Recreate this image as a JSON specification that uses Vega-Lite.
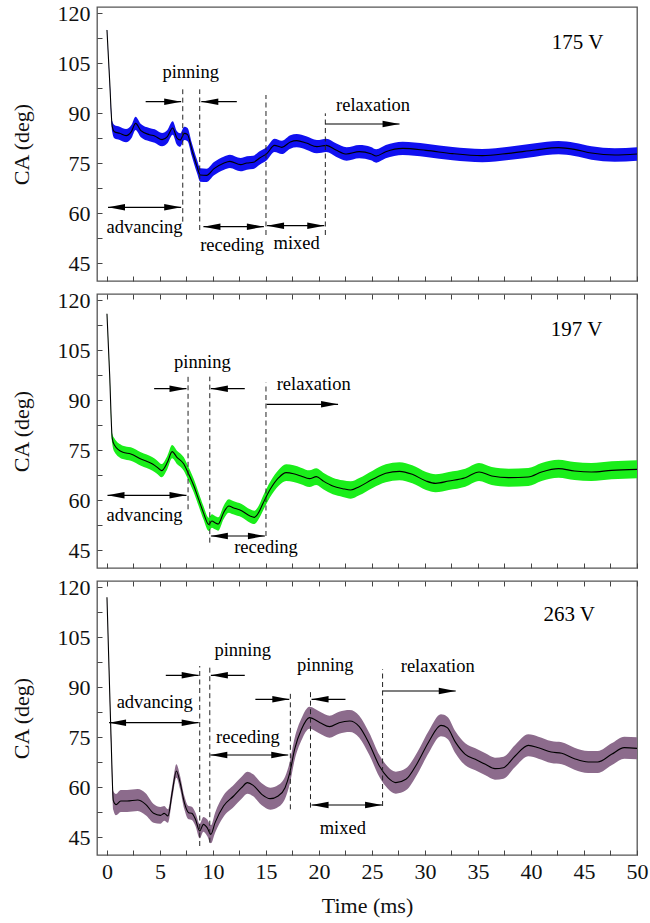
{
  "$schema": "https://vega.github.io/schema/vega-lite/v6.json",
  "autosize": {"type": "none"},
  "padding": {"left": 97, "top": 7, "right": 553, "bottom": 916},
  "background": "white",
  "config": {
    "font": "Liberation Serif",
    "view": {"stroke": "#555555", "strokeWidth": 1.3},
    "axis": {
      "domain": false, "grid": false, "tickSize": -5, "tickColor": "#444444", "tickWidth": 1,
      "labelFont": "Liberation Serif", "labelFontSize": 22, "labelColor": "#111111",
      "titleFont": "Liberation Serif", "titleFontSize": 22, "titleFontWeight": "normal", "titleColor": "#111111"
    }
  },
  "datasets": {
    "curves": [
      {"p":1,"t":0,"ca":115,"err":0.3},{"p":1,"t":0.25,"ca":100,"err":0.6},{"p":1,"t":0.5,"ca":86,"err":1.6},{"p":1,"t":0.7,"ca":84.5,"err":2},{"p":1,"t":1.2,"ca":84,"err":2},{"p":1,"t":1.8,"ca":83.3,"err":2},{"p":1,"t":2.3,"ca":84.5,"err":2},{"p":1,"t":2.7,"ca":87,"err":2},{"p":1,"t":3.2,"ca":84.8,"err":2},{"p":1,"t":4.0,"ca":83.6,"err":2},{"p":1,"t":4.5,"ca":83.2,"err":2},{"p":1,"t":5.2,"ca":82.1,"err":2},{"p":1,"t":5.7,"ca":83,"err":2},{"p":1,"t":6.2,"ca":85.6,"err":2},{"p":1,"t":6.6,"ca":82.6,"err":2},{"p":1,"t":6.9,"ca":82,"err":2},{"p":1,"t":7.3,"ca":84,"err":2},{"p":1,"t":7.6,"ca":83.6,"err":2},{"p":1,"t":8.0,"ca":79.2,"err":2},{"p":1,"t":8.5,"ca":74,"err":2},{"p":1,"t":8.8,"ca":71.5,"err":2},{"p":1,"t":9.4,"ca":71.4,"err":2},{"p":1,"t":10.1,"ca":73.4,"err":2},{"p":1,"t":11.0,"ca":75,"err":2},{"p":1,"t":11.6,"ca":75.6,"err":2},{"p":1,"t":12.6,"ca":74.6,"err":2},{"p":1,"t":13.2,"ca":75.1,"err":2},{"p":1,"t":13.8,"ca":75.3,"err":2},{"p":1,"t":14.4,"ca":76.6,"err":2},{"p":1,"t":15.1,"ca":78,"err":2},{"p":1,"t":15.8,"ca":80.4,"err":2},{"p":1,"t":16.5,"ca":79.8,"err":2},{"p":1,"t":17.3,"ca":81.4,"err":2},{"p":1,"t":17.9,"ca":81.8,"err":2},{"p":1,"t":18.8,"ca":81.1,"err":2},{"p":1,"t":19.8,"ca":80,"err":2},{"p":1,"t":20.7,"ca":80.4,"err":2},{"p":1,"t":21.6,"ca":79,"err":2},{"p":1,"t":22.6,"ca":77.8,"err":2},{"p":1,"t":23.8,"ca":78.5,"err":2},{"p":1,"t":24.9,"ca":77.9,"err":2},{"p":1,"t":25.4,"ca":77.2,"err":2},{"p":1,"t":26.3,"ca":78.5,"err":2},{"p":1,"t":27.9,"ca":79.5,"err":2},{"p":1,"t":30.1,"ca":78.9,"err":2},{"p":1,"t":32.6,"ca":77.9,"err":2},{"p":1,"t":35.4,"ca":77.3,"err":2},{"p":1,"t":37.9,"ca":78,"err":2},{"p":1,"t":40.4,"ca":79,"err":2},{"p":1,"t":42.6,"ca":79.7,"err":2},{"p":1,"t":44.1,"ca":79.2,"err":2},{"p":1,"t":45.7,"ca":78.1,"err":2},{"p":1,"t":47.9,"ca":77.5,"err":2},{"p":1,"t":50,"ca":77.8,"err":2},

      {"p":2,"t":0,"ca":116,"err":0.3},{"p":2,"t":0.25,"ca":98,"err":0.6},{"p":2,"t":0.5,"ca":78.5,"err":1.5},{"p":2,"t":0.7,"ca":76.6,"err":2},{"p":2,"t":1.5,"ca":74.4,"err":2},{"p":2,"t":2.25,"ca":73.9,"err":2},{"p":2,"t":3.2,"ca":72.4,"err":2},{"p":2,"t":4.3,"ca":70.9,"err":2},{"p":2,"t":4.75,"ca":69.9,"err":2},{"p":2,"t":5.15,"ca":68.9,"err":2},{"p":2,"t":5.7,"ca":71.4,"err":2},{"p":2,"t":6.15,"ca":74.6,"err":2},{"p":2,"t":6.6,"ca":72.9,"err":2},{"p":2,"t":7.25,"ca":70.9,"err":2},{"p":2,"t":7.7,"ca":67.9,"err":2},{"p":2,"t":8.2,"ca":64.3,"err":2},{"p":2,"t":8.65,"ca":60.3,"err":2},{"p":2,"t":9.1,"ca":56.3,"err":2},{"p":2,"t":9.6,"ca":52.8,"err":2},{"p":2,"t":9.9,"ca":53.8,"err":2},{"p":2,"t":10.2,"ca":53.3,"err":2},{"p":2,"t":10.5,"ca":52.9,"err":2},{"p":2,"t":11.0,"ca":56.3,"err":2},{"p":2,"t":11.5,"ca":58.3,"err":2},{"p":2,"t":11.9,"ca":57.8,"err":2},{"p":2,"t":12.7,"ca":56.9,"err":2},{"p":2,"t":13.5,"ca":55.3,"err":2},{"p":2,"t":13.9,"ca":54.9,"err":2},{"p":2,"t":14.3,"ca":56.3,"err":2},{"p":2,"t":14.75,"ca":59.3,"err":2.2},{"p":2,"t":15.4,"ca":63.3,"err":2.3},{"p":2,"t":16.2,"ca":66.8,"err":2.4},{"p":2,"t":16.9,"ca":68.3,"err":2.5},{"p":2,"t":17.6,"ca":68,"err":2.5},{"p":2,"t":18.3,"ca":67.3,"err":2.5},{"p":2,"t":19.1,"ca":66.5,"err":2.5},{"p":2,"t":19.75,"ca":67.1,"err":2.5},{"p":2,"t":20.4,"ca":65.8,"err":2.5},{"p":2,"t":21.3,"ca":64.3,"err":2.5},{"p":2,"t":22.25,"ca":63.5,"err":2.5},{"p":2,"t":23.0,"ca":63.1,"err":2.6},{"p":2,"t":23.8,"ca":64.1,"err":2.6},{"p":2,"t":25.06,"ca":66.3,"err":2.6},{"p":2,"t":26.3,"ca":68.1,"err":2.7},{"p":2,"t":27.6,"ca":68.7,"err":2.7},{"p":2,"t":28.8,"ca":67.8,"err":2.7},{"p":2,"t":30.1,"ca":65.8,"err":2.7},{"p":2,"t":31.0,"ca":65.1,"err":2.7},{"p":2,"t":32.25,"ca":65.8,"err":2.7},{"p":2,"t":33.8,"ca":66.8,"err":2.7},{"p":2,"t":35.1,"ca":68.5,"err":2.7},{"p":2,"t":36.3,"ca":67.3,"err":2.7},{"p":2,"t":37.9,"ca":66.8,"err":2.7},{"p":2,"t":39.75,"ca":67,"err":2.7},{"p":2,"t":41.0,"ca":68.5,"err":2.7},{"p":2,"t":42.6,"ca":69.5,"err":2.7},{"p":2,"t":44.1,"ca":68.8,"err":2.7},{"p":2,"t":45.7,"ca":68.5,"err":2.7},{"p":2,"t":47.6,"ca":69,"err":2.7},{"p":2,"t":50,"ca":69.3,"err":2.7},

      {"p":3,"t":0,"ca":117,"err":0.3},{"p":3,"t":0.2,"ca":95,"err":0.6},{"p":3,"t":0.4,"ca":73.4,"err":1.5},{"p":3,"t":0.6,"ca":56,"err":2.8},{"p":3,"t":0.85,"ca":54.8,"err":3.2},{"p":3,"t":1.3,"ca":55.9,"err":3.3},{"p":3,"t":1.9,"ca":55.9,"err":3.3},{"p":3,"t":2.9,"ca":56.2,"err":3.3},{"p":3,"t":3.65,"ca":54.9,"err":3.3},{"p":3,"t":4.4,"ca":52.2,"err":2.8},{"p":3,"t":5.05,"ca":51.6,"err":2.5},{"p":3,"t":5.4,"ca":52.2,"err":2.2},{"p":3,"t":5.75,"ca":51.4,"err":2},{"p":3,"t":6.15,"ca":58.4,"err":2},{"p":3,"t":6.55,"ca":64.9,"err":2},{"p":3,"t":6.9,"ca":61.4,"err":2},{"p":3,"t":7.3,"ca":55.4,"err":2},{"p":3,"t":7.7,"ca":52.4,"err":2},{"p":3,"t":8.0,"ca":52.2,"err":2},{"p":3,"t":8.35,"ca":50.4,"err":2},{"p":3,"t":8.75,"ca":46.9,"err":2.2},{"p":3,"t":9.1,"ca":48.9,"err":2.2},{"p":3,"t":9.45,"ca":47.9,"err":2.5},{"p":3,"t":9.8,"ca":45.9,"err":2.7},{"p":3,"t":10.2,"ca":49.4,"err":3},{"p":3,"t":11.0,"ca":54.4,"err":3.2},{"p":3,"t":11.95,"ca":57.4,"err":3.3},{"p":3,"t":12.7,"ca":59.9,"err":3.3},{"p":3,"t":13.25,"ca":61.4,"err":3.3},{"p":3,"t":13.8,"ca":60.6,"err":3.3},{"p":3,"t":14.6,"ca":57.9,"err":3.3},{"p":3,"t":15.4,"ca":56.6,"err":3.3},{"p":3,"t":16.15,"ca":57.4,"err":3.3},{"p":3,"t":16.8,"ca":59.9,"err":3.3},{"p":3,"t":17.25,"ca":64.4,"err":3.3},{"p":3,"t":17.7,"ca":71.4,"err":3.3},{"p":3,"t":18.35,"ca":77.4,"err":3.3},{"p":3,"t":19.1,"ca":80.9,"err":3.3},{"p":3,"t":20.1,"ca":79.4,"err":3.3},{"p":3,"t":21.0,"ca":78.2,"err":3.3},{"p":3,"t":21.9,"ca":79.4,"err":3.3},{"p":3,"t":22.9,"ca":79.9,"err":3.3},{"p":3,"t":23.8,"ca":78.2,"err":3.3},{"p":3,"t":24.75,"ca":73,"err":3.3},{"p":3,"t":25.7,"ca":66.4,"err":3.3},{"p":3,"t":26.5,"ca":62.9,"err":3.3},{"p":3,"t":27.25,"ca":61.4,"err":3.3},{"p":3,"t":28.2,"ca":62.4,"err":3.3},{"p":3,"t":29.3,"ca":67.4,"err":3.3},{"p":3,"t":30.4,"ca":73.9,"err":3.3},{"p":3,"t":31.5,"ca":78.6,"err":3.3},{"p":3,"t":32.1,"ca":77.9,"err":3.3},{"p":3,"t":32.9,"ca":73.4,"err":3.3},{"p":3,"t":33.8,"ca":69.9,"err":3.3},{"p":3,"t":34.75,"ca":68.4,"err":3.3},{"p":3,"t":35.7,"ca":66.9,"err":3.3},{"p":3,"t":36.6,"ca":65.6,"err":3.3},{"p":3,"t":37.4,"ca":65.9,"err":3.3},{"p":3,"t":38.5,"ca":69.4,"err":3.3},{"p":3,"t":39.75,"ca":72.6,"err":3.3},{"p":3,"t":40.7,"ca":71.9,"err":3.3},{"p":3,"t":41.9,"ca":70.6,"err":3.3},{"p":3,"t":42.9,"ca":70.2,"err":3.3},{"p":3,"t":44.1,"ca":68.6,"err":3.3},{"p":3,"t":45.4,"ca":67.6,"err":3.3},{"p":3,"t":46.3,"ca":67.6,"err":3.3},{"p":3,"t":47.6,"ca":69.9,"err":3.3},{"p":3,"t":48.8,"ca":71.9,"err":3.3},{"p":3,"t":50,"ca":71.7,"err":3.3}
    ],
    "vlines": [
      {"p":1,"t":7.15,"y1":57.5,"y2":97.2},{"p":1,"t":8.75,"y1":55,"y2":97.2},{"p":1,"t":15.0,"y1":53.5,"y2":95.5},{"p":1,"t":20.6,"y1":53.5,"y2":90},
      {"p":2,"t":7.65,"y1":57.3,"y2":97.1},{"p":2,"t":9.7,"y1":47.3,"y2":97.1},{"p":2,"t":15.0,"y1":49.3,"y2":95.3},
      {"p":3,"t":8.75,"y1":42.4,"y2":96.4},{"p":3,"t":9.7,"y1":43.4,"y2":96.6},{"p":3,"t":17.3,"y1":53.4,"y2":88.9},{"p":3,"t":19.2,"y1":53.9,"y2":88.9},{"p":3,"t":26.0,"y1":54.4,"y2":95.4}
    ],
    "arrows": [
      {"p":1,"t1":3.65,"t2":7.0,"ca":93.5},{"p":1,"t1":8.9,"t2":12.25,"ca":93.5},{"p":1,"t1":0.1,"t2":7.0,"ca":61.8},{"p":1,"t1":9.1,"t2":14.8,"ca":56},{"p":1,"t1":15.1,"t2":20.5,"ca":56.3},{"p":1,"t1":20.6,"t2":27.6,"ca":86.8},
      {"p":2,"t1":4.45,"t2":7.5,"ca":93.5},{"p":2,"t1":9.8,"t2":13.0,"ca":93.5},{"p":2,"t1":0.05,"t2":7.5,"ca":61.5},{"p":2,"t1":9.8,"t2":14.9,"ca":49.3},{"p":2,"t1":15.06,"t2":21.8,"ca":88.8},
      {"p":3,"t1":5.55,"t2":8.65,"ca":93.6},{"p":3,"t1":9.8,"t2":13.0,"ca":93.6},{"p":3,"t1":0.2,"t2":8.65,"ca":79.4},{"p":3,"t1":9.75,"t2":17.1,"ca":69.7},{"p":3,"t1":14.0,"t2":17.2,"ca":86.4},{"p":3,"t1":19.3,"t2":22.5,"ca":86.4},{"p":3,"t1":19.3,"t2":25.95,"ca":54.7},{"p":3,"t1":26.0,"t2":32.9,"ca":88.9}
    ],
    "heads": [
      {"p":1,"t":7.0,"ca":93.5,"dir":"R"},{"p":1,"t":8.9,"ca":93.5,"dir":"L"},{"p":1,"t":0.1,"ca":61.8,"dir":"L"},{"p":1,"t":7.0,"ca":61.8,"dir":"R"},{"p":1,"t":9.1,"ca":56,"dir":"L"},{"p":1,"t":14.8,"ca":56,"dir":"R"},{"p":1,"t":15.1,"ca":56.3,"dir":"L"},{"p":1,"t":20.5,"ca":56.3,"dir":"R"},{"p":1,"t":27.6,"ca":86.8,"dir":"R"},
      {"p":2,"t":7.5,"ca":93.5,"dir":"R"},{"p":2,"t":9.8,"ca":93.5,"dir":"L"},{"p":2,"t":0.05,"ca":61.5,"dir":"L"},{"p":2,"t":7.5,"ca":61.5,"dir":"R"},{"p":2,"t":9.8,"ca":49.3,"dir":"L"},{"p":2,"t":14.9,"ca":49.3,"dir":"R"},{"p":2,"t":21.8,"ca":88.8,"dir":"R"},
      {"p":3,"t":8.65,"ca":93.6,"dir":"R"},{"p":3,"t":9.8,"ca":93.6,"dir":"L"},{"p":3,"t":0.2,"ca":79.4,"dir":"L"},{"p":3,"t":8.65,"ca":79.4,"dir":"R"},{"p":3,"t":9.75,"ca":69.7,"dir":"L"},{"p":3,"t":17.1,"ca":69.7,"dir":"R"},{"p":3,"t":17.2,"ca":86.4,"dir":"R"},{"p":3,"t":19.3,"ca":86.4,"dir":"L"},{"p":3,"t":19.3,"ca":54.7,"dir":"L"},{"p":3,"t":25.95,"ca":54.7,"dir":"R"},{"p":3,"t":32.9,"ca":88.9,"dir":"R"}
    ],
    "notes": [
      {"p":1,"t":7.9,"ca":100.5,"text":"pinning"},{"p":1,"t":3.55,"ca":54.2,"text":"advancing"},{"p":1,"t":11.8,"ca":48.7,"text":"receding"},{"p":1,"t":17.9,"ca":49.4,"text":"mixed"},{"p":1,"t":25.1,"ca":90.6,"text":"relaxation"},
      {"p":2,"t":9.0,"ca":99.7,"text":"pinning"},{"p":2,"t":3.55,"ca":53.7,"text":"advancing"},{"p":2,"t":15.0,"ca":44.2,"text":"receding"},{"p":2,"t":19.5,"ca":93.1,"text":"relaxation"},
      {"p":3,"t":12.8,"ca":99.3,"text":"pinning"},{"p":3,"t":4.5,"ca":83.9,"text":"advancing"},{"p":3,"t":13.3,"ca":73.3,"text":"receding"},{"p":3,"t":20.6,"ca":94.9,"text":"pinning"},{"p":3,"t":22.25,"ca":46,"text":"mixed"},{"p":3,"t":31.2,"ca":94.7,"text":"relaxation"}
    ],
    "volts": [
      {"p":1,"t":44.4,"ca":109.4,"text":"175 V"},
      {"p":2,"t":44.3,"ca":109.2,"text":"197 V"},
      {"p":3,"t":43.6,"ca":109.8,"text":"263 V"}
    ]
  },
  "bounds": "flush",
  "spacing": 13,
  "vconcat": [
    {
      "width": 540, "height": 274,
      "resolve": {"axis": {"x": "independent", "y": "independent"}},
      "layer": [
        {
          "data": {"name": "curves"}, "transform": [{"filter": "datum.p === 1"}],
          "mark": {"type": "errorband", "color": "#1010f0", "interpolate": "monotone", "band": {"opacity": 1}},
          "encoding": {
            "x": {"field": "t", "type": "quantitative", "scale": {"domain": [-0.94, 50], "nice": false, "zero": false},
                  "axis": {"orient": "bottom", "values": [0,2.5,5,7.5,10,12.5,15,17.5,20,22.5,25,27.5,30,32.5,35,37.5,40,42.5,45,47.5,50], "labels": false, "title": null}},
            "y": {"field": "ca", "type": "quantitative", "scale": {"domain": [39.7, 121.9], "nice": false, "zero": false}, "axis": null},
            "yError": {"field": "err"}
          }
        },
        {
          "data": {"name": "curves"}, "transform": [{"filter": "datum.p === 1"}],
          "mark": {"type": "line", "color": "black", "strokeWidth": 1.1, "interpolate": "monotone"},
          "encoding": {
            "x": {"field": "t", "type": "quantitative", "axis": null},
            "y": {"field": "ca", "type": "quantitative",
                  "axis": {"orient": "left", "values": [45,52.5,60,67.5,75,82.5,90,97.5,105,112.5,120], "labelExpr": "datum.value % 15 === 0 ? datum.label : ''", "labelPadding": 12, "title": "CA (deg)", "titleX": -68.5, "titleBaseline": "alphabetic"}}
          }
        },
        {
          "data": {"name": "vlines"}, "transform": [{"filter": "datum.p === 1"}],
          "mark": {"type": "rule", "color": "#222222", "strokeWidth": 1, "strokeDash": [5, 3.5]},
          "encoding": {"x": {"field": "t", "type": "quantitative", "axis": null}, "y": {"field": "y1", "type": "quantitative", "axis": null}, "y2": {"field": "y2"}}
        },
        {
          "data": {"name": "arrows"}, "transform": [{"filter": "datum.p === 1"}],
          "mark": {"type": "rule", "color": "black", "strokeWidth": 1.1},
          "encoding": {"x": {"field": "t1", "type": "quantitative", "axis": null}, "x2": {"field": "t2"}, "y": {"field": "ca", "type": "quantitative", "axis": null}}
        },
        {
          "data": {"name": "heads"}, "transform": [{"filter": "datum.p === 1"}],
          "mark": {"type": "point", "filled": true, "color": "black", "opacity": 1, "size": 289},
          "encoding": {
            "x": {"field": "t", "type": "quantitative", "axis": null}, "y": {"field": "ca", "type": "quantitative", "axis": null},
            "shape": {"field": "dir", "type": "nominal", "legend": null, "scale": {"domain": ["L", "R"], "range": ["M0,0L2,-0.38L2,0.38Z", "M0,0L-2,-0.38L-2,0.38Z"]}}
          }
        },
        {
          "data": {"name": "notes"}, "transform": [{"filter": "datum.p === 1"}],
          "mark": {"type": "text", "font": "Liberation Serif", "fontSize": 18.5, "align": "center", "baseline": "alphabetic", "color": "black"},
          "encoding": {"x": {"field": "t", "type": "quantitative", "axis": null}, "y": {"field": "ca", "type": "quantitative", "axis": null}, "text": {"field": "text"}}
        },
        {
          "data": {"name": "volts"}, "transform": [{"filter": "datum.p === 1"}],
          "mark": {"type": "text", "font": "Liberation Serif", "fontSize": 21, "align": "center", "baseline": "alphabetic", "color": "black"},
          "encoding": {"x": {"field": "t", "type": "quantitative", "axis": null}, "y": {"field": "ca", "type": "quantitative", "axis": null}, "text": {"field": "text"}}
        }
      ]
    },
    {
      "width": 540, "height": 274,
      "resolve": {"axis": {"x": "independent", "y": "independent"}},
      "layer": [
        {
          "data": {"name": "curves"}, "transform": [{"filter": "datum.p === 2"}],
          "mark": {"type": "errorband", "color": "#1aee1a", "interpolate": "monotone", "band": {"opacity": 1}},
          "encoding": {
            "x": {"field": "t", "type": "quantitative", "scale": {"domain": [-0.94, 50], "nice": false, "zero": false},
                  "axis": {"orient": "bottom", "values": [0,2.5,5,7.5,10,12.5,15,17.5,20,22.5,25,27.5,30,32.5,35,37.5,40,42.5,45,47.5,50], "labels": false, "title": null}},
            "y": {"field": "ca", "type": "quantitative", "scale": {"domain": [39.7, 121.9], "nice": false, "zero": false}, "axis": null},
            "yError": {"field": "err"}
          }
        },
        {
          "data": {"name": "curves"}, "transform": [{"filter": "datum.p === 2"}],
          "mark": {"type": "line", "color": "black", "strokeWidth": 1.1, "interpolate": "monotone"},
          "encoding": {
            "x": {"field": "t", "type": "quantitative", "axis": {"orient": "top", "values": [0,2.5,5,7.5,10,12.5,15,17.5,20,22.5,25,27.5,30,32.5,35,37.5,40,42.5,45,47.5,50], "labels": false, "title": null}},
            "y": {"field": "ca", "type": "quantitative",
                  "axis": {"orient": "left", "values": [45,52.5,60,67.5,75,82.5,90,97.5,105,112.5,120], "labelExpr": "datum.value % 15 === 0 ? datum.label : ''", "labelPadding": 12, "title": "CA (deg)", "titleX": -68.5, "titleBaseline": "alphabetic"}}
          }
        },
        {
          "data": {"name": "vlines"}, "transform": [{"filter": "datum.p === 2"}],
          "mark": {"type": "rule", "color": "#222222", "strokeWidth": 1, "strokeDash": [5, 3.5]},
          "encoding": {"x": {"field": "t", "type": "quantitative", "axis": null}, "y": {"field": "y1", "type": "quantitative", "axis": null}, "y2": {"field": "y2"}}
        },
        {
          "data": {"name": "arrows"}, "transform": [{"filter": "datum.p === 2"}],
          "mark": {"type": "rule", "color": "black", "strokeWidth": 1.1},
          "encoding": {"x": {"field": "t1", "type": "quantitative", "axis": null}, "x2": {"field": "t2"}, "y": {"field": "ca", "type": "quantitative", "axis": null}}
        },
        {
          "data": {"name": "heads"}, "transform": [{"filter": "datum.p === 2"}],
          "mark": {"type": "point", "filled": true, "color": "black", "opacity": 1, "size": 289},
          "encoding": {
            "x": {"field": "t", "type": "quantitative", "axis": null}, "y": {"field": "ca", "type": "quantitative", "axis": null},
            "shape": {"field": "dir", "type": "nominal", "legend": null, "scale": {"domain": ["L", "R"], "range": ["M0,0L2,-0.38L2,0.38Z", "M0,0L-2,-0.38L-2,0.38Z"]}}
          }
        },
        {
          "data": {"name": "notes"}, "transform": [{"filter": "datum.p === 2"}],
          "mark": {"type": "text", "font": "Liberation Serif", "fontSize": 18.5, "align": "center", "baseline": "alphabetic", "color": "black"},
          "encoding": {"x": {"field": "t", "type": "quantitative", "axis": null}, "y": {"field": "ca", "type": "quantitative", "axis": null}, "text": {"field": "text"}}
        },
        {
          "data": {"name": "volts"}, "transform": [{"filter": "datum.p === 2"}],
          "mark": {"type": "text", "font": "Liberation Serif", "fontSize": 21, "align": "center", "baseline": "alphabetic", "color": "black"},
          "encoding": {"x": {"field": "t", "type": "quantitative", "axis": null}, "y": {"field": "ca", "type": "quantitative", "axis": null}, "text": {"field": "text"}}
        }
      ]
    },
    {
      "width": 540, "height": 274,
      "resolve": {"axis": {"x": "independent", "y": "independent"}},
      "layer": [
        {
          "data": {"name": "curves"}, "transform": [{"filter": "datum.p === 3"}],
          "mark": {"type": "errorband", "color": "#8c6b8c", "interpolate": "monotone", "band": {"opacity": 1}},
          "encoding": {
            "x": {"field": "t", "type": "quantitative", "scale": {"domain": [-0.94, 50], "nice": false, "zero": false},
                  "axis": {"orient": "bottom", "values": [0,2.5,5,7.5,10,12.5,15,17.5,20,22.5,25,27.5,30,32.5,35,37.5,40,42.5,45,47.5,50], "labelExpr": "datum.value % 5 === 0 ? datum.label : ''", "labelFlush": false, "labelOverlap": false, "labelPadding": 28, "labelBaseline": "alphabetic", "title": "Time (ms)", "titleY": 57, "titleBaseline": "alphabetic"}},
            "y": {"field": "ca", "type": "quantitative", "scale": {"domain": [39.7, 121.9], "nice": false, "zero": false}, "axis": null},
            "yError": {"field": "err"}
          }
        },
        {
          "data": {"name": "curves"}, "transform": [{"filter": "datum.p === 3"}],
          "mark": {"type": "line", "color": "black", "strokeWidth": 1.1, "interpolate": "monotone"},
          "encoding": {
            "x": {"field": "t", "type": "quantitative", "axis": {"orient": "top", "values": [0,2.5,5,7.5,10,12.5,15,17.5,20,22.5,25,27.5,30,32.5,35,37.5,40,42.5,45,47.5,50], "labels": false, "title": null}},
            "y": {"field": "ca", "type": "quantitative",
                  "axis": {"orient": "left", "values": [45,52.5,60,67.5,75,82.5,90,97.5,105,112.5,120], "labelExpr": "datum.value % 15 === 0 ? datum.label : ''", "labelPadding": 12, "title": "CA (deg)", "titleX": -68.5, "titleBaseline": "alphabetic"}}
          }
        },
        {
          "data": {"name": "vlines"}, "transform": [{"filter": "datum.p === 3"}],
          "mark": {"type": "rule", "color": "#222222", "strokeWidth": 1, "strokeDash": [5, 3.5]},
          "encoding": {"x": {"field": "t", "type": "quantitative", "axis": null}, "y": {"field": "y1", "type": "quantitative", "axis": null}, "y2": {"field": "y2"}}
        },
        {
          "data": {"name": "arrows"}, "transform": [{"filter": "datum.p === 3"}],
          "mark": {"type": "rule", "color": "black", "strokeWidth": 1.1},
          "encoding": {"x": {"field": "t1", "type": "quantitative", "axis": null}, "x2": {"field": "t2"}, "y": {"field": "ca", "type": "quantitative", "axis": null}}
        },
        {
          "data": {"name": "heads"}, "transform": [{"filter": "datum.p === 3"}],
          "mark": {"type": "point", "filled": true, "color": "black", "opacity": 1, "size": 289},
          "encoding": {
            "x": {"field": "t", "type": "quantitative", "axis": null}, "y": {"field": "ca", "type": "quantitative", "axis": null},
            "shape": {"field": "dir", "type": "nominal", "legend": null, "scale": {"domain": ["L", "R"], "range": ["M0,0L2,-0.38L2,0.38Z", "M0,0L-2,-0.38L-2,0.38Z"]}}
          }
        },
        {
          "data": {"name": "notes"}, "transform": [{"filter": "datum.p === 3"}],
          "mark": {"type": "text", "font": "Liberation Serif", "fontSize": 18.5, "align": "center", "baseline": "alphabetic", "color": "black"},
          "encoding": {"x": {"field": "t", "type": "quantitative", "axis": null}, "y": {"field": "ca", "type": "quantitative", "axis": null}, "text": {"field": "text"}}
        },
        {
          "data": {"name": "volts"}, "transform": [{"filter": "datum.p === 3"}],
          "mark": {"type": "text", "font": "Liberation Serif", "fontSize": 21, "align": "center", "baseline": "alphabetic", "color": "black"},
          "encoding": {"x": {"field": "t", "type": "quantitative", "axis": null}, "y": {"field": "ca", "type": "quantitative", "axis": null}, "text": {"field": "text"}}
        }
      ]
    }
  ]
}
